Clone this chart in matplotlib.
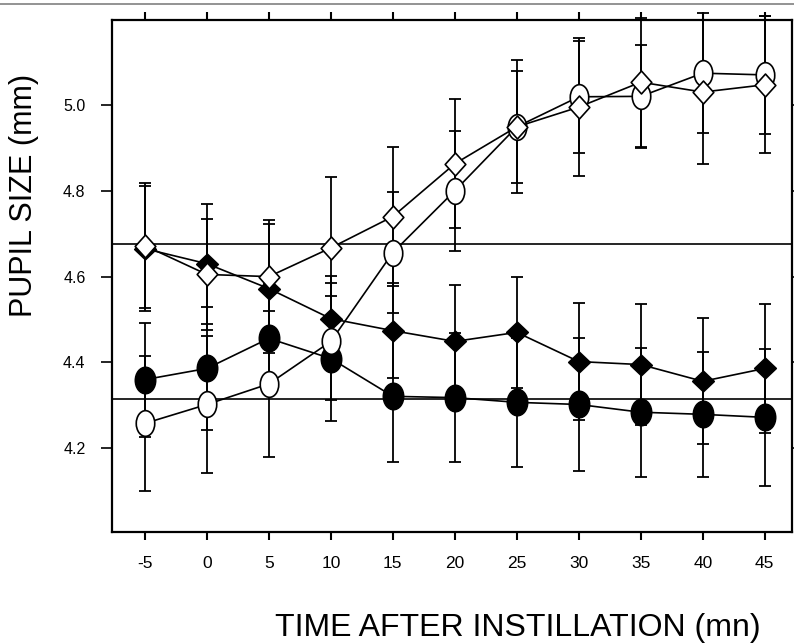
import numpy as np
import matplotlib
matplotlib.use("Agg")
import matplotlib.pyplot as plt
from matplotlib.path import Path
from matplotlib.lines import Line2D

plt.rcParams['font.family'] = ['Liberation Sans', 'DejaVu Sans']

# time after instillation (mn)
time = [-5, 0, 5, 10, 15, 20, 25, 30, 35, 40, 45]

# open diamonds
od_val = [4.672, 4.605, 4.600, 4.667, 4.740, 4.863, 4.949, 4.995, 5.053, 5.030, 5.047]
od_err = [0.145, 0.130, 0.133, 0.166, 0.162, 0.150, 0.155, 0.160, 0.150, 0.167, 0.160]

# open circles
oc_val = [4.258, 4.302, 4.350, 4.449, 4.656, 4.800, 4.949, 5.019, 5.020, 5.074, 5.070]
oc_err = [0.158, 0.160, 0.170, 0.137, 0.140, 0.140, 0.130, 0.130, 0.120, 0.140, 0.137]

# filled diamonds
fd_val = [4.665, 4.630, 4.572, 4.502, 4.474, 4.449, 4.470, 4.402, 4.395, 4.356, 4.386]
fd_err = [0.145, 0.140, 0.150, 0.100, 0.110, 0.131, 0.130, 0.137, 0.140, 0.147, 0.150]

# filled circles
fc_val = [4.360, 4.386, 4.456, 4.409, 4.321, 4.318, 4.307, 4.302, 4.284, 4.279, 4.272]
fc_err = [0.133, 0.144, 0.130, 0.145, 0.154, 0.151, 0.151, 0.155, 0.150, 0.146, 0.160]

# reference lines
ref_lines = [4.675, 4.314]

x_ticks = [-5, 0, 5, 10, 15, 20, 25, 30, 35, 40, 45]
y_ticks = [4.2, 4.4, 4.6, 4.8, 5.0]


def ellipse(wx):
    c = Path.unit_circle()
    return Path(c.vertices * [wx, 1.0], c.codes)


def diamond(wx):
    return Path([(0, 1), (wx, 0), (0, -1), (-wx, 0), (0, 1)], closed=True)


fig = plt.figure(figsize=(7.94, 6.44), dpi=100)
ax = fig.add_axes([0.141, 0.174, 0.8565, 0.795])

for y in ref_lines:
    ax.axhline(y, color='black', lw=1.2, zorder=1)

series = [
    (fc_val, fc_err, ellipse(0.77), 19, 'black'),
    (fd_val, fd_err, diamond(1.05), 15.5, 'black'),
    (oc_val, oc_err, ellipse(0.72), 18.5, 'white'),
    (od_val, od_err, diamond(0.9), 16.5, 'white'),
]
for vals, errs, mk, ms, fc in series:
    ax.errorbar(time, vals, yerr=errs, fmt='none', ecolor='black', elinewidth=1.3,
                capsize=4.5, capthick=1.3, zorder=2, clip_on=False)
    ax.plot(time, vals, color='black', lw=1.2, marker=mk, markersize=ms,
            markerfacecolor=fc, markeredgecolor='black', markeredgewidth=1.2,
            zorder=3, clip_on=False)

ax.set_xlim(-7.66, 47.2)
ax.set_ylim(4.005, 5.198)
ax.set_xticks(x_ticks)
ax.set_xticklabels([str(t) for t in x_ticks], fontsize=12.5)
ax.set_yticks(y_ticks)
ax.set_yticklabels([f'{t:.1f}' for t in y_ticks], fontsize=11.5)
ax.tick_params(axis='x', direction='out', length=6, width=1.5, pad=11,
               top=True, bottom=True)
ax.tick_params(axis='y', direction='out', length=8, width=1.2, pad=11,
               left=True, right=True)
for s in ax.spines.values():
    s.set_linewidth(1.6)

fig.text(0.652, 0.012, 'TIME AFTER INSTILLATION (mn)', fontsize=23,
         ha='center', va='baseline')
fig.text(0.030, 0.696, 'PUPIL SIZE (mm)', fontsize=22, rotation=90,
         ha='center', va='center')

fig.add_artist(Line2D([0, 1], [1 - 4 / 644, 1 - 4 / 644], color='#808080', lw=1.2,
                      transform=fig.transFigure))

fig.savefig('out.png', dpi=100)
